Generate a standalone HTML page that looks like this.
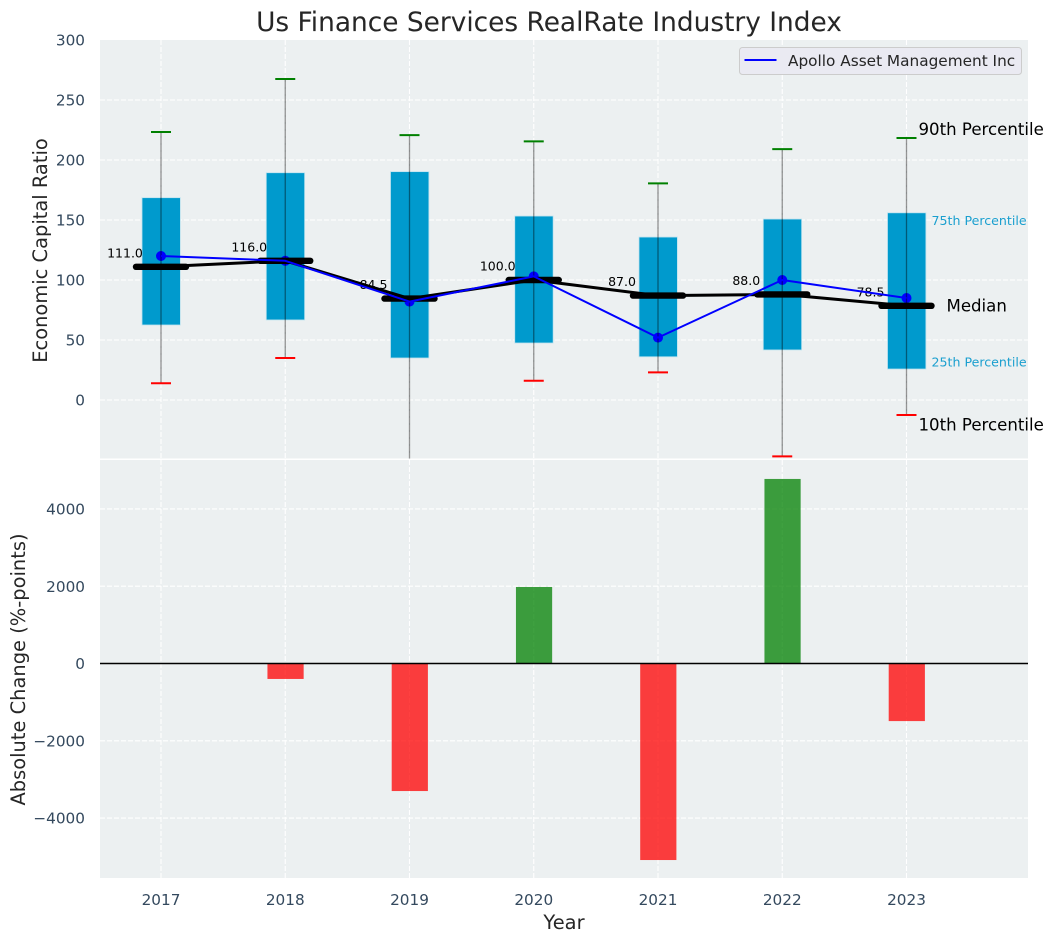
<!DOCTYPE html>
<html lang="en">
<head>
<meta charset="utf-8">
<title>Us Finance Services RealRate Industry Index</title>
<style>
html,body{margin:0;padding:0;background:#fff;width:1053px;height:942px;overflow:hidden}
svg{display:block;font-family:"DejaVu Sans","Liberation Sans",sans-serif}
</style>
</head>
<body>
<svg id="chart" xmlns="http://www.w3.org/2000/svg" width="1053" height="942" viewBox="0 0 1053 942">
  <defs>
    <clipPath id="top-clip"><rect x="100" y="40" width="928" height="418.5"/></clipPath>
    <clipPath id="bottom-clip"><rect x="100" y="460" width="928" height="418"/></clipPath>
  </defs>
  <rect x="0" y="0" width="1053" height="942" fill="#ffffff"/>
  <rect x="100" y="40" width="928" height="418.5" fill="#ecf0f1"/>
  <rect x="100" y="460" width="928" height="418" fill="#ecf0f1"/>
  <g id="top-grid"></g>
  <g id="bottom-grid"></g>
  <g id="top-marks" clip-path="url(#top-clip)"></g>
  <g id="bottom-marks" clip-path="url(#bottom-clip)"></g>
  <g id="annotations"></g>
  <g id="ticks"></g>
  <text x="549" y="31" text-anchor="middle" font-size="26.4" fill="#262626">Us Finance Services RealRate Industry Index</text>
  <text transform="translate(47,250.5) rotate(-90)" text-anchor="middle" font-size="19.44" fill="#262626">Economic Capital Ratio</text>
  <text transform="translate(25,669.5) rotate(-90)" text-anchor="middle" font-size="19.44" fill="#262626">Absolute Change (%-points)</text>
  <text x="564" y="929" text-anchor="middle" font-size="19.44" fill="#262626">Year</text>
  <g>
    <rect x="739.5" y="47.5" width="282" height="27" rx="3" fill="#eaeaf2" stroke="#cccccc" stroke-width="1"/>
    <line x1="744.5" y1="60" x2="776.5" y2="60" stroke="#0000ff" stroke-width="2"/>
    <text x="788" y="66" font-size="15.3" fill="#262626">Apollo Asset Management Inc</text>
  </g>
</svg>
<script>
const years = [2017, 2018, 2019, 2020, 2021, 2022, 2023];
const p90 = [223.3, 267.5, 220.7, 215.5, 180.5, 209.1, 218.3];
const p75 = [168.6, 189.4, 190.3, 153.3, 135.8, 150.8, 156];
const medians = [111, 116, 84.5, 100, 87, 88, 78.5];
const p25 = [62.5, 66.7, 35, 47.5, 36, 41.7, 25.8];
const p10 = [14, 35, -60, 16, 23, -47, -12.5];
const company = [120, 116, 82, 103, 52, 100, 85];
const changes = [0, -400, -3300, 1980, -5085, 4775, -1490];
const topTicks = [0, 50, 100, 150, 200, 250, 300];
const bottomTicks = [-4000, -2000, 0, 2000, 4000];

const NS = 'http://www.w3.org/2000/svg';
function sx(year) { return 161 + (year - 2017) * 124.25; }
function syTop(v) { return 400 - v * 1.2; }
function syBottom(v) { return 663.5 - v * 0.03865; }
function make(tag, parent, attrs, text) {
  const el = document.createElementNS(NS, tag);
  for (const k in attrs) el.setAttribute(k, attrs[k]);
  if (text !== undefined) el.textContent = text;
  parent.appendChild(el);
  return el;
}
function fmtTick(v) { return v < 0 ? '\u2212' + Math.abs(v) : String(v); }

const topGrid = document.getElementById('top-grid');
const bottomGrid = document.getElementById('bottom-grid');
const topMarks = document.getElementById('top-marks');
const bottomMarks = document.getElementById('bottom-marks');
const ticks = document.getElementById('ticks');
const annotations = document.getElementById('annotations');
const GRID = { stroke: '#ffffff', 'stroke-width': 1.1, 'stroke-dasharray': '5 2' };
const TICKCOL = '#34495e';

years.forEach(function (y) {
  const x = sx(y);
  const a = make('line', topGrid, Object.assign({ x1: x, x2: x, y1: 40, y2: 458.5 }, GRID));
  
  
  const b = make('line', bottomGrid, Object.assign({ x1: x, x2: x, y1: 460, y2: 878 }, GRID));
  
  
  const t = make('text', ticks, { x: x, y: 904.8, 'text-anchor': 'middle', 'font-size': 15.28, fill: TICKCOL }, String(y));
  
  
});
topTicks.forEach(function (v) {
  const y = syTop(v);
  if (v < 300) {
    const g = make('line', topGrid, Object.assign({ x1: 100, x2: 1028, y1: y, y2: y }, GRID));
    
    
  }
  const t = make('text', ticks, { x: 85, y: y + 5.6, 'text-anchor': 'end', 'font-size': 15.28, fill: TICKCOL }, fmtTick(v));
  
  
});
bottomTicks.forEach(function (v) {
  const y = syBottom(v);
  const g = make('line', bottomGrid, Object.assign({ x1: 100, x2: 1028, y1: y, y2: y }, GRID));
  
  
  const t = make('text', ticks, { x: 85, y: y + 5.6, 'text-anchor': 'end', 'font-size': 15.28, fill: TICKCOL }, fmtTick(v));
  
  
});

/* boxes */
years.forEach(function (y, i) {
  const x = sx(y);
  const top = syTop(p75[i]);
  const box = make('rect', topMarks, { x: x - 19, y: top, width: 38.4, height: syTop(p25[i]) - top, fill: '#009acd', stroke: '#bfe3ef', 'stroke-width': 0.8 });
  
  
});
/* median value labels, under the lines */
years.forEach(function (y, i) {
  const t = make('text', topMarks, { x: sx(y) - 36, y: syTop(medians[i]) - 9.5, 'text-anchor': 'middle', 'font-size': 12.5, fill: '#000000' }, medians[i].toFixed(1));
  
  
});
/* company markers */
years.forEach(function (y, i) {
  const c = make('circle', topMarks, { cx: sx(y), cy: syTop(company[i]), r: 5, fill: '#0000ff' });
  
  
});
/* whiskers and caps */
years.forEach(function (y, i) {
  const x = sx(y);
  const w = make('line', topMarks, { x1: x, x2: x, y1: syTop(p90[i]), y2: syTop(p10[i]), stroke: '#000000', 'stroke-opacity': 0.42, 'stroke-width': 1.3 });
  
  
  const hi = make('line', topMarks, { x1: x - 10, x2: x + 10, y1: syTop(p90[i]), y2: syTop(p90[i]), stroke: '#008000', 'stroke-width': 2 });
  
  
  const lo = make('line', topMarks, { x1: x - 10, x2: x + 10, y1: syTop(p10[i]), y2: syTop(p10[i]), stroke: '#ff0000', 'stroke-width': 2 });
  
  
});
/* thick medians */
years.forEach(function (y, i) {
  const x = sx(y);
  const m = make('line', topMarks, { x1: x - 25, x2: x + 25, y1: syTop(medians[i]), y2: syTop(medians[i]), stroke: '#000000', 'stroke-width': 6.4, 'stroke-linecap': 'round' });
  
  
});
/* connecting lines */
const medianLine = make('polyline', topMarks, { points: years.map(function (y, i) { return sx(y) + ',' + syTop(medians[i]); }).join(' '), fill: 'none', stroke: '#000000', 'stroke-width': 3, 'stroke-linejoin': 'round' });


const companyLine = make('polyline', topMarks, { points: years.map(function (y, i) { return sx(y) + ',' + syTop(company[i]); }).join(' '), fill: 'none', stroke: '#0000ff', 'stroke-width': 2, 'stroke-linejoin': 'round' });



/* annotations, anchored on the last year */
const last = years.length - 1;
const lx = sx(years[last]);
const a90 = make('text', annotations, { x: lx + 12, y: syTop(p90[last]) - 2.8, 'font-size': 16.6, fill: '#000000' }, '90th Percentile');


const a75 = make('text', annotations, { x: lx + 25, y: syTop(p75[last]) + 12, 'font-size': 12.6, fill: '#1a9fcf' }, '75th Percentile');


const a50 = make('text', annotations, { x: lx + 40, y: syTop(medians[last]) + 5.8, 'font-size': 16.6, fill: '#000000' }, 'Median');


const a25 = make('text', annotations, { x: lx + 25, y: syTop(p25[last]) - 2.5, 'font-size': 12.6, fill: '#1a9fcf' }, '25th Percentile');


const a10 = make('text', annotations, { x: lx + 12, y: syTop(p10[last]) + 15.5, 'font-size': 16.6, fill: '#000000' }, '10th Percentile');



/* change bars */
years.forEach(function (y, i) {
  const v = changes[i];
  const y0 = syBottom(0);
  const yv = syBottom(v);
  const b = make('rect', bottomMarks, { x: sx(y) - 17.8, y: Math.min(y0, yv), width: 36.2, height: Math.abs(yv - y0), fill: v >= 0 ? '#008000' : '#ff0000', 'fill-opacity': 0.75 });
  
  
});
const zero = make('line', bottomMarks, { x1: 100, x2: 1028, y1: syBottom(0), y2: syBottom(0), stroke: '#000000', 'stroke-width': 1.4 });


</script>
</body>
</html>
